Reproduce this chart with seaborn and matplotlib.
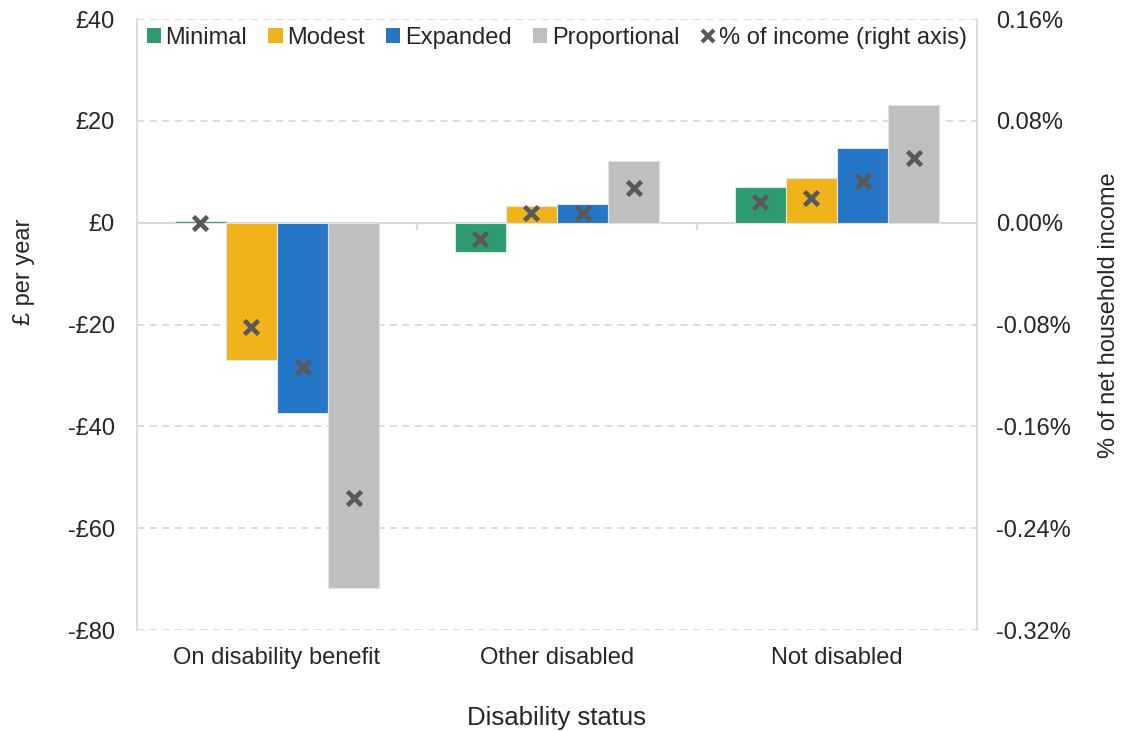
import pandas as pd
import numpy as np
import matplotlib
matplotlib.use('Agg')
import matplotlib.pyplot as plt
from matplotlib.patches import Patch
from matplotlib.lines import Line2D
from matplotlib.ticker import FuncFormatter
import seaborn as sns

# Data
statuses = ['On disability benefit', 'Other disabled', 'Not disabled']
schemes = ['Minimal', 'Modest', 'Expanded', 'Proportional']
minimal_gbp = [0.3, -5.7, 7.1]
modest_gbp = [-26.9, 3.3, 8.8]
expanded_gbp = [-37.3, 3.7, 14.7]
proportional_gbp = [-71.8, 12.2, 23.1]
minimal_pct = [0.0, -0.0125, 0.0165]
modest_pct = [-0.0816, 0.0078, 0.0196]
expanded_pct = [-0.113, 0.0078, 0.033]
proportional_pct = [-0.2165, 0.0275, 0.051]
left_ticks = [-80, -60, -40, -20, 0, 20, 40]
right_ticks = [-0.32, -0.24, -0.16, -0.08, 0.0, 0.08, 0.16]

colors = ['#2E9C70', '#F0B41A', '#2676C8', '#BFBFBF']
marker_col = '#595959'
grid_col = '#D9D9D9'

gbp = [minimal_gbp, modest_gbp, expanded_gbp, proportional_gbp]
pct = [minimal_pct, modest_pct, expanded_pct, proportional_pct]
rows = []
for s, vals, pvals in zip(schemes, gbp, pct):
    for st, v, p in zip(statuses, vals, pvals):
        rows.append({'status': st, 'scheme': s, 'value': v, 'pct': p})
df = pd.DataFrame(rows)

sns.set_style('white')
plt.rcParams['font.family'] = ['Liberation Sans', 'DejaVu Sans']
fs = 17

fig, ax = plt.subplots(figsize=(11.23, 7.31), dpi=100)
fig.subplots_adjust(left=0.122, right=0.870, top=0.974, bottom=0.138)

sns.barplot(data=df, x='status', y='value', hue='scheme', hue_order=schemes,
            order=statuses, palette=colors, saturation=1, width=0.73,
            edgecolor='#E3E3E3', linewidth=0.8, ax=ax, legend=False, zorder=3)

ax.set_ylim(-80, 40)
ax.set_xlim(-0.5, 2.5)
ax.set_yticks(left_ticks)
ax.yaxis.set_major_formatter(FuncFormatter(
    lambda v, _: ('-£%d' % abs(v)) if v < 0 else '£%d' % v))
for t in left_ticks:
    if t == 0:
        ax.axhline(0, color=grid_col, lw=1.5, zorder=2)
    else:
        ax.axhline(t, color=grid_col, lw=1.3, ls=(0, (4, 3)), zorder=1)
# category boundary ticks on the zero line
ax.vlines([0.5, 1.5], -1.5, 0, color=grid_col, lw=1.5, zorder=2)

for side in ['top', 'bottom']:
    ax.spines[side].set_visible(False)
for side in ['left', 'right']:
    ax.spines[side].set_color(grid_col)
    ax.spines[side].set_linewidth(1.3)
ax.tick_params(axis='both', length=0, labelsize=fs)
ax.tick_params(axis='y', pad=16)
ax.tick_params(axis='x', pad=12)
ax.set_xlabel('Disability status', fontsize=18.5)
ax.set_ylabel('£ per year', fontsize=fs)
ax.xaxis.set_label_coords(0.499, -0.124)
ax.yaxis.set_label_coords(-0.121, 0.586)

ax2 = ax.twinx()
ax2.set_ylim(-0.32, 0.16)
ax2.set_yticks(right_ticks)
ax2.yaxis.set_major_formatter(FuncFormatter(lambda v, _: '%.2f%%' % v))
for side in ['top', 'bottom', 'left', 'right']:
    ax2.spines[side].set_visible(False)
ax2.tick_params(axis='y', length=0, pad=14, labelsize=fs)
ax2.set_ylabel('% of net household income', fontsize=fs)
ax2.yaxis.set_label_coords(1.144, 0.516)

# markers at bar centres
for cont, pvals in zip(ax.containers, pct):
    xs = [b.get_x() + b.get_width() / 2 for b in cont]
    ax2.plot(xs, pvals, ls='none', marker='x', ms=10, mew=3.3,
             color=marker_col, zorder=5)

handles = [Patch(facecolor=c, edgecolor='none') for c in colors]
handles.append(Line2D([], [], ls='none', marker='x', ms=8.5, mew=3,
                      color=marker_col))
labels = schemes + ['% of income (right axis)']
ax2.legend(handles, labels, loc='upper center', bbox_to_anchor=(0.5, 1.022),
           ncol=5, frameon=False, handlelength=0.6, handleheight=0.6,
           handletextpad=0.2, columnspacing=0.9, fontsize=fs)

plt.savefig('out.png', dpi=100)
